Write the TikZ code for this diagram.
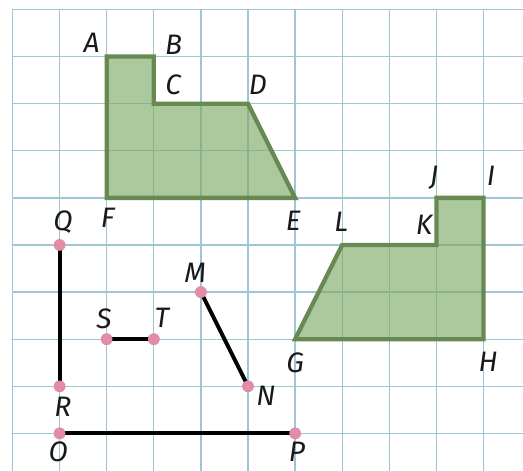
\documentclass[tikz,border=0pt]{standalone}
\usepackage{fontspec}
\setmainfont{Fira Sans}
\definecolor{gridc}{RGB}{158,198,214}
\definecolor{fillg}{RGB}{122,168,100}
\definecolor{edgeg}{RGB}{104,138,82}
\definecolor{dotc}{RGB}{226,140,168}
\tikzset{
  gridline/.style={draw=gridc, line width=0.8pt},
  shapefill/.style={fill=fillg, fill opacity=0.62, draw=edgeg, line width=2.6pt, line join=miter},
  seg/.style={draw=black, line width=2.4pt},
  dot/.style={circle, fill=dotc, inner sep=0pt, minimum size=7pt},
  lbl/.style={font=\itshape\fontsize{17}{20}\selectfont, inner sep=0pt, text=black!90}
}
\begin{document}
\begin{tikzpicture}[x=1cm,y=1cm]
\useasboundingbox (-0.2654,0.2017) rectangle (10.8386,-9.7983);
\fill[white] (-0.2654,0.2017) rectangle (10.8386,-9.7983);
% grid
\foreach \i in {0,...,10} \draw[gridline] (\i,0) -- (\i,-9.8);
\foreach \j in {0,...,9} \draw[gridline] (0,-\j) -- (10.84,-\j);
% points
\coordinate (pA) at (2,-1);
\coordinate (pB) at (3,-1);
\coordinate (pC) at (3,-2);
\coordinate (pD) at (5,-2);
\coordinate (pE) at (6,-4);
\coordinate (pF) at (2,-4);
\coordinate (pI) at (10,-4);
\coordinate (pJ) at (9,-4);
\coordinate (pK) at (9,-5);
\coordinate (pL) at (7,-5);
\coordinate (pG) at (6,-7);
\coordinate (pH) at (10,-7);
% shapes
\draw[shapefill] (pA) -- (pB) -- (pC) -- (pD) -- (pE) -- (pF) -- cycle;
\draw[shapefill] (pJ) -- (pI) -- (pH) -- (pG) -- (pL) -- (pK) -- cycle;
% segment end points
\node[dot] (Q) at (1,-5) {};
\node[dot] (R) at (1,-8) {};
\node[dot] (O) at (1,-9) {};
\node[dot] (P) at (6,-9) {};
\node[dot] (S) at (2,-7) {};
\node[dot] (T) at (3,-7) {};
\node[dot] (M) at (4,-6) {};
\node[dot] (N) at (5,-8) {};
\draw[seg] (Q.center) -- (R.center);
\draw[seg] (O.center) -- (P.center);
\draw[seg] (S.center) -- (T.center);
\draw[seg] (M.center) -- (N.center);
\foreach \p in {Q,R,O,P,S,T,M,N} \fill[dotc] (\p) circle (3.5pt);
% labels
\node[lbl] (lA) at (1.68,-0.70) {A};
\node[lbl] (lB) at (3.42,-0.76) {B};
\node[lbl] (lC) at (3.41,-1.60) {C};
\node[lbl] (lD) at (5.21,-1.59) {D};
\node[lbl] (lE) at (5.96,-4.49) {E};
\node[lbl] (lF) at (2.02,-4.43) {F};
\node[lbl] (lI) at (10.16,-3.54) {I};
\node[lbl] (lJ) at (8.95,-3.57) {J};
\node[lbl] (lK) at (8.74,-4.58) {K};
\node[lbl] (lL) at (6.98,-4.51) {L};
\node[lbl] (lG) at (6.00,-7.51) {G};
\node[lbl] (lH) at (10.10,-7.48) {H};
\node[lbl] (lQ) at (1.07,-4.51) {Q};
\node[lbl] (lR) at (1.07,-8.44) {R};
\node[lbl] (lO) at (0.97,-9.40) {O};
\node[lbl] (lP) at (6.04,-9.40) {P};
\node[lbl] (lS) at (1.94,-6.57) {S};
\node[lbl] (lT) at (3.17,-6.55) {T};
\node[lbl] (lM) at (3.88,-5.59) {M};
\node[lbl] (lN) at (5.38,-8.21) {N};
\end{tikzpicture}
\end{document}
